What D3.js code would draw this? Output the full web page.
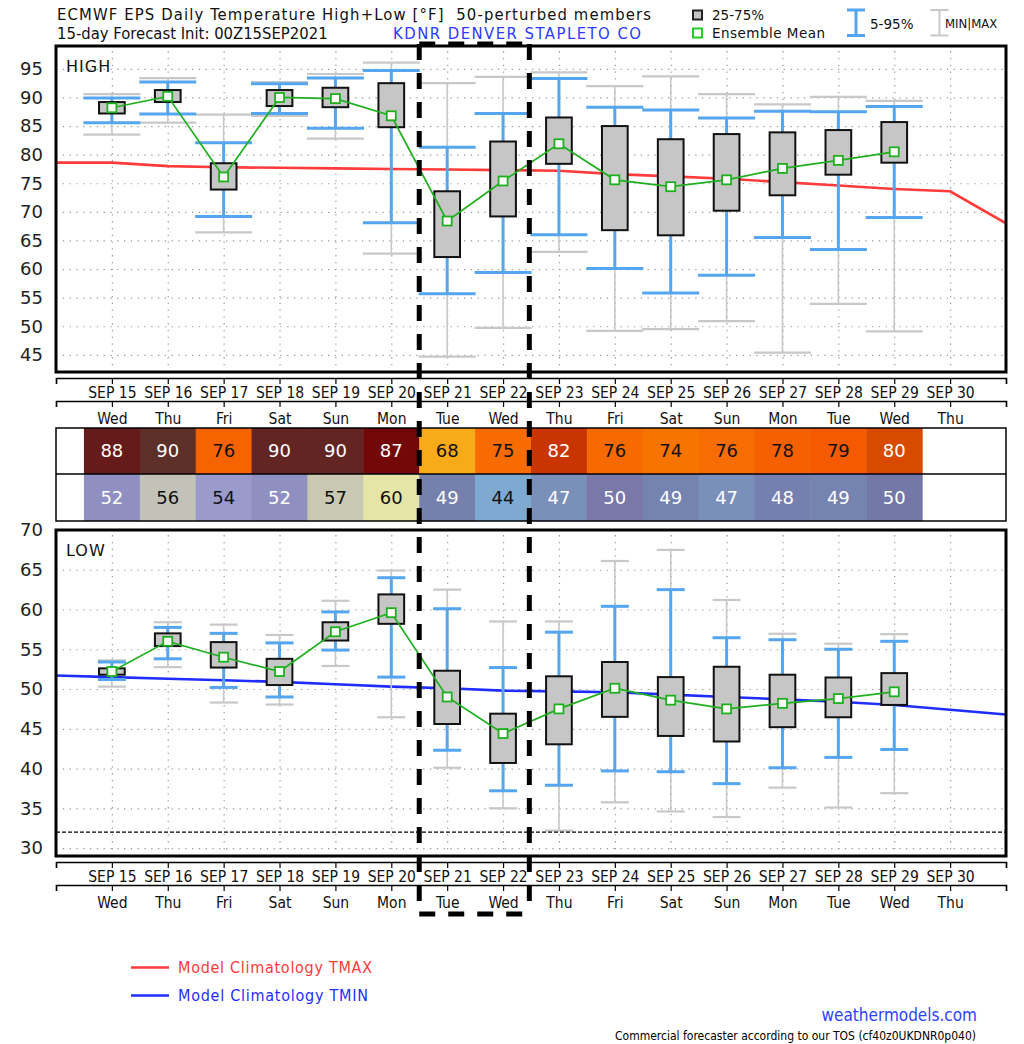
<!DOCTYPE html>
<html>
<head>
<meta charset="utf-8">
<script src="https://cdn.jsdelivr.net/npm/d3@7"></script>
<style>
body { margin: 0; background: #fff; }
svg text { font-family: "DejaVu Sans", sans-serif; }
svg .cond { font-family: "DejaVu Sans Condensed", "Liberation Sans Narrow", "Open Sans", sans-serif; font-stretch: condensed; }
</style>
</head>
<body>
<div id="chart"></div>
<script>

// ---- data ----
var dates = ["SEP 15","SEP 16","SEP 17","SEP 18","SEP 19","SEP 20","SEP 21","SEP 22","SEP 23","SEP 24","SEP 25","SEP 26","SEP 27","SEP 28","SEP 29","SEP 30"];
var weekdays = ["Wed","Thu","Fri","Sat","Sun","Mon","Tue","Wed","Thu","Fri","Sat","Sun","Mon","Tue","Wed","Thu"];
var dayIdx = [0,1,2,3,4,5,6,7,8,9,10,11,12,13,14];

var highMin  = [83.5, 85.6, 66.4, 86.8, 82.8, 62.7, 44.7, 49.7, 63.0, 49.2, 49.5, 50.9, 45.4, 53.9, 49.1];
var highP5   = [85.6, 87.1, 69.2, 87.2, 84.6, 68.1, 55.7, 59.4, 66.0, 60.1, 55.8, 58.9, 65.5, 63.4, 69.0];
var highQ1   = [87.2, 89.2, 73.9, 88.5, 88.3, 84.8, 62.1, 69.2, 78.4, 66.8, 65.9, 70.2, 72.9, 76.5, 78.6];
var highMean = [88.2, 90.2, 76.1, 90.0, 89.8, 86.8, 68.4, 75.4, 81.9, 75.6, 74.4, 75.6, 77.6, 79.0, 80.5];
var highQ3   = [89.2, 91.3, 78.5, 91.3, 91.7, 92.5, 73.6, 82.3, 86.5, 85.0, 82.7, 83.6, 83.9, 84.3, 85.7];
var highP95  = [89.9, 92.7, 82.1, 92.4, 93.4, 94.7, 81.3, 87.2, 93.3, 88.3, 87.8, 86.4, 87.6, 87.5, 88.4];
var highMax  = [90.6, 93.4, 87.0, 92.7, 94.1, 96.1, 92.5, 93.6, 94.4, 92.0, 93.7, 90.6, 88.8, 90.1, 89.4];

var lowMin  = [50.3, 52.75, 48.3, 48.05, 52.9, 46.45, 40.1, 35.0, 32.2, 35.75, 34.6, 33.9, 37.6, 35.1, 36.9];
var lowP5   = [51.2, 53.8, 50.2, 49.0, 54.9, 51.5, 42.3, 37.2, 37.9, 39.7, 39.6, 38.1, 40.1, 41.4, 42.4];
var lowQ1   = [51.8, 55.4, 52.7, 50.5, 56.1, 58.2, 45.6, 40.7, 43.05, 46.5, 44.1, 43.4, 45.2, 46.45, 48.0];
var lowMean = [52.2, 56.0, 54.0, 52.2, 57.2, 59.6, 49.0, 44.4, 47.5, 50.1, 48.6, 47.5, 48.2, 48.8, 49.65];
var lowQ3   = [52.6, 57.0, 55.9, 53.8, 58.4, 61.9, 52.3, 46.9, 51.6, 53.4, 51.5, 52.8, 51.8, 51.45, 52.0];
var lowP95  = [53.4, 57.75, 57.0, 55.8, 59.7, 64.0, 60.1, 52.7, 57.15, 60.4, 62.5, 56.45, 56.2, 55.0, 56.0];
var lowMax  = [53.6, 58.4, 58.1, 56.8, 61.1, 64.9, 62.5, 58.5, 58.5, 66.1, 67.5, 61.2, 56.95, 55.7, 56.9];

// model climatology, one point per day from Sep 14 to Oct 1
var climDay  = [-1, 0, 1, 2, 3, 4, 5, 6, 7, 8, 9, 10, 11, 12, 13, 14, 15, 16];
var tmaxClim = [78.6, 78.6, 78.0, 77.8, 77.7, 77.6, 77.5, 77.4, 77.3, 77.2, 76.6, 76.2, 75.8, 75.2, 74.6, 74.0, 73.6, 68.0];
var tminClim = [51.7, 51.5, 51.3, 51.1, 50.9, 50.6, 50.3, 50.1, 49.8, 49.7, 49.6, 49.3, 49.0, 48.7, 48.4, 48.0, 47.4, 46.8];

// daily table
var tableHigh = [88, 90, 76, 90, 90, 87, 68, 75, 82, 76, 74, 76, 78, 79, 80];
var tableLow  = [52, 56, 54, 52, 57, 60, 49, 44, 47, 50, 49, 47, 48, 49, 50];
var highColors = ["#661b1a","#5c3028","#f66300","#622522","#622522","#730808","#f9aa18","#f76b00","#c93500","#f76a00","#f87400","#f86d03","#f66000","#f55a00","#d84a00"];
var lowColors  = ["#8f8fc2","#c2c2b8","#9a9acc","#8f8fc2","#c9c9b2","#e5e5a8","#7580ad","#7eaad2","#7a8fba","#7a78a8","#7583b0","#7a8fba","#7580b0","#7583b0","#7478a8"];
var highDark = [1,1,0,1,1,1,0,0,1,0,0,0,0,0,1];
var lowDark  = [1,0,0,1,0,0,1,0,1,1,1,1,1,1,1];

var highTicks = [45, 50, 55, 60, 65, 70, 75, 80, 85, 90, 95];
var lowTicks  = [30, 35, 40, 45, 50, 55, 60, 65, 70];
var highlightDays = [5.5, 7.47];   // dashed box around Sep 21-22

// ---- layout ----
var W = 1024, H = 1044;
var left = 56, right = 1006;

var svg = d3.select("#chart").append("svg")
	.attr("width", W)
	.attr("height", H);

var x = d3.scaleLinear().domain([-1, 16]).range([left, right]);

var yHigh = d3.scaleLinear().domain([42, 99]).range([372, 46]);
var yLow  = d3.scaleLinear().domain([29, 70]).range([856, 530]);

var blue = "#55a6ee", grayW = "#c8c8c8", green = "#1fb01f";

function drawPanel(y, top, bottom, ticks, s, capHalf, clim, climColor, label, labelY) {

	var g = svg.append("g");

	// dotted grid
	var gy = g.append("g")
		.attr("transform", "translate(" + left + ",0)")
		.call(d3.axisLeft(y).tickValues(ticks).tickSize(-(right - left)).tickFormat(""));
	var gx = g.append("g")
		.attr("transform", "translate(0," + bottom + ")")
		.call(d3.axisBottom(x).tickValues(d3.range(0, 16)).tickSize(-(bottom - top)).tickFormat(""));
	[gy, gx].forEach(function(a) {
		a.select(".domain").remove();
		a.selectAll("line").attr("stroke", "#9a9a9a").attr("stroke-width", 1.2).attr("stroke-dasharray", "1.3,5.5");
	});

	// y labels
	var ya = g.append("g")
		.attr("transform", "translate(" + left + ",0)")
		.call(d3.axisLeft(y).tickValues(ticks).tickSize(0).tickPadding(13));
	ya.select(".domain").remove();
	ya.selectAll("text").attr("font-size", 18).attr("fill", "#222")
		.style("font-family", "'DejaVu Sans', sans-serif");

	// clip for lines
	var clipId = "clip" + label;
	svg.append("clipPath").attr("id", clipId)
		.append("rect").attr("x", left).attr("y", top).attr("width", right - left).attr("height", bottom - top);

	var climLine = d3.line()
		.x(function(d, i) { return x(climDay[i]); })
		.y(function(d) { return y(d); });
	g.append("path")
		.attr("d", climLine(clim))
		.attr("clip-path", "url(#" + clipId + ")")
		.attr("fill", "none")
		.attr("stroke", climColor)
		.attr("stroke-width", 2.6);

	// min|max whiskers
	var w1 = g.selectAll(".mm").data(dayIdx).enter().append("g");
	w1.append("line")
		.attr("x1", function(i) { return x(i); }).attr("x2", function(i) { return x(i); })
		.attr("y1", function(i) { return y(s.min[i]); }).attr("y2", function(i) { return y(s.max[i]); })
		.attr("stroke", grayW).attr("stroke-width", 1.6);
	["min", "max"].forEach(function(k) {
		w1.append("line")
			.attr("x1", function(i) { return x(i) - capHalf; }).attr("x2", function(i) { return x(i) + capHalf; })
			.attr("y1", function(i) { return y(s[k][i]); }).attr("y2", function(i) { return y(s[k][i]); })
			.attr("stroke", grayW).attr("stroke-width", 2.2);
	});

	// 5-95 whiskers
	var w2 = g.selectAll(".pp").data(dayIdx).enter().append("g");
	w2.append("line")
		.attr("x1", function(i) { return x(i); }).attr("x2", function(i) { return x(i); })
		.attr("y1", function(i) { return y(s.p5[i]); }).attr("y2", function(i) { return y(s.p95[i]); })
		.attr("stroke", blue).attr("stroke-width", 3);
	["p5", "p95"].forEach(function(k) {
		w2.append("line")
			.attr("x1", function(i) { return x(i) - capHalf; }).attr("x2", function(i) { return x(i) + capHalf; })
			.attr("y1", function(i) { return y(s[k][i]); }).attr("y2", function(i) { return y(s[k][i]); })
			.attr("stroke", blue).attr("stroke-width", 3);
	});

	// 25-75 boxes
	var bw = 0.46 * (x(1) - x(0));
	g.selectAll(".box").data(dayIdx).enter().append("rect")
		.attr("x", function(i) { return x(i) - bw / 2; })
		.attr("width", bw)
		.attr("y", function(i) { return y(s.q3[i]); })
		.attr("height", function(i) { return y(s.q1[i]) - y(s.q3[i]); })
		.attr("fill", "#c6c6c6")
		.attr("stroke", "#111")
		.attr("stroke-width", 2);

	// ensemble mean
	var meanLine = d3.line()
		.x(function(i) { return x(i); })
		.y(function(i) { return y(s.mean[i]); });
	g.append("path")
		.attr("d", meanLine(dayIdx))
		.attr("fill", "none").attr("stroke", green).attr("stroke-width", 1.7);
	g.selectAll(".mean").data(dayIdx).enter().append("rect")
		.attr("x", function(i) { return x(i) - 4.5; })
		.attr("y", function(i) { return y(s.mean[i]) - 4.5; })
		.attr("width", 9).attr("height", 9)
		.attr("fill", "#fff").attr("stroke", green).attr("stroke-width", 1.8);

	// frame
	g.append("rect")
		.attr("x", left).attr("y", top)
		.attr("width", right - left).attr("height", bottom - top)
		.attr("fill", "none").attr("stroke", "#000").attr("stroke-width", 3);

	g.append("text")
		.attr("x", 66).attr("y", labelY)
		.attr("font-size", 16).attr("letter-spacing", 1).attr("fill", "#111")
		.text(label);

	return g;
}

function drawDateAxes(frameBottom) {
	var days = d3.range(-1, 17);
	var a1 = svg.append("g")
		.attr("class", "cond")
		.attr("transform", "translate(0," + (frameBottom + 6) + ")")
		.call(d3.axisBottom(x).tickValues(days).tickSizeOuter(0).tickSize(6).tickPadding(3)
			.tickFormat(function(d) { return (d >= 0 && d < 16) ? dates[d] : ""; }));
	var a2 = svg.append("g")
		.attr("class", "cond")
		.attr("transform", "translate(0," + (frameBottom + 29) + ")")
		.call(d3.axisBottom(x).tickValues(days).tickSizeOuter(0).tickSize(6).tickPadding(6)
			.tickFormat(function(d) { return (d >= 0 && d < 16) ? weekdays[d] : ""; }));
	[a1, a2].forEach(function(a) {
		a.select(".domain").attr("stroke", "#000").attr("stroke-width", 1.5);
		a.selectAll("line").attr("stroke", "#000").attr("stroke-width", 1.2);
		a.selectAll("text").attr("font-size", 15.5).attr("fill", "#111")
			.style("font-family", "'DejaVu Sans Condensed','Liberation Sans Narrow','Open Sans',sans-serif");
	});
}

drawPanel(yHigh, 46, 372, highTicks,
	{min: highMin, p5: highP5, q1: highQ1, mean: highMean, q3: highQ3, p95: highP95, max: highMax},
	28.5, tmaxClim, "#ff3b3b", "HIGH", 72);

drawPanel(yLow, 530, 856, lowTicks,
	{min: lowMin, p5: lowP5, q1: lowQ1, mean: lowMean, q3: lowQ3, p95: lowP95, max: lowMax},
	14, tminClim, "#1f2eff", "LOW", 556);

// freezing line
svg.append("line")
	.attr("x1", left).attr("x2", right)
	.attr("y1", yLow(32)).attr("y2", yLow(32))
	.attr("stroke", "#000").attr("stroke-width", 1.3).attr("stroke-dasharray", "4,2");

drawDateAxes(372);
drawDateAxes(856);

// ---- table ----
var tTop = 428, tMid = 474, tBot = 521;
var tg = svg.append("g");
[[tableHigh, highColors, highDark, tTop, tMid], [tableLow, lowColors, lowDark, tMid, tBot]].forEach(function(row) {
	var cells = tg.selectAll(null).data(dayIdx).enter().append("g");
	cells.append("rect")
		.attr("x", function(i) { return x(i - 0.5); })
		.attr("width", function(i) { return x(i + 0.5) - x(i - 0.5) + 0.5; })
		.attr("y", row[3]).attr("height", row[4] - row[3])
		.attr("fill", function(i) { return row[1][i]; });
	cells.append("text")
		.attr("x", function(i) { return x(i); })
		.attr("y", (row[3] + row[4]) / 2)
		.attr("dy", "0.36em")
		.attr("text-anchor", "middle")
		.attr("font-size", 18)
		.attr("fill", function(i) { return row[2][i] ? "#fff" : "#111"; })
		.text(function(i) { return row[0][i]; });
});
tg.append("rect").attr("x", left).attr("y", tTop).attr("width", right - left).attr("height", tBot - tTop)
	.attr("fill", "none").attr("stroke", "#000").attr("stroke-width", 1.5);
tg.append("line").attr("x1", left).attr("x2", right).attr("y1", tMid).attr("y2", tMid)
	.attr("stroke", "#000").attr("stroke-width", 1.5);

// ---- dashed highlight box ----
var hx0 = x(highlightDays[0]), hx1 = x(highlightDays[1]);
var hy0 = 44, hy1 = 914;
[[hx0, hy0, hx0, hy1], [hx1, hy0, hx1, hy1], [hx0, hy0, hx1, hy0], [hx0, hy1, hx1, hy1]].forEach(function(l) {
	svg.append("line")
		.attr("x1", l[0]).attr("y1", l[1]).attr("x2", l[2]).attr("y2", l[3])
		.attr("stroke", "#000").attr("stroke-width", 5).attr("stroke-dasharray", "16,13");
});

// ---- header ----
var hdr = svg.append("g").attr("class", "cond");
hdr.append("text").attr("x", 57).attr("y", 20).attr("font-size", 16.5).attr("fill", "#111")
	.attr("textLength", 594).attr("lengthAdjust", "spacing")
	.style("white-space", "pre")
	.text("ECMWF EPS Daily Temperature High+Low [°F]  50-perturbed members");
hdr.append("text").attr("x", 57).attr("y", 39).attr("font-size", 16.5).attr("fill", "#111")
	.text("15-day Forecast Init: 00Z15SEP2021");
hdr.append("text").attr("x", 393).attr("y", 39).attr("font-size", 16.5).attr("fill", "#2a3cff")
	.attr("textLength", 248).attr("lengthAdjust", "spacing")
	.text("KDNR DENVER STAPLETO CO");

// legend top right
var lg = svg.append("g");
lg.append("rect").attr("x", 693).attr("y", 10.5).attr("width", 9).attr("height", 9)
	.attr("fill", "#c6c6c6").attr("stroke", "#222").attr("stroke-width", 2);
lg.append("text").attr("x", 712).attr("y", 20).attr("font-size", 13.5).attr("fill", "#111").text("25-75%");
lg.append("rect").attr("x", 693).attr("y", 28.5).attr("width", 9).attr("height", 9)
	.attr("fill", "#fff").attr("stroke", "#22cc22").attr("stroke-width", 2);
lg.append("text").attr("x", 712).attr("y", 38).attr("font-size", 13.5).attr("fill", "#111")
	.attr("textLength", 113).attr("lengthAdjust", "spacing").text("Ensemble Mean");
[[856, blue, 3], [939.5, grayW, 2]].forEach(function(b) {
	lg.append("line").attr("x1", b[0]).attr("x2", b[0]).attr("y1", 10).attr("y2", 35.5).attr("stroke", b[1]).attr("stroke-width", b[2]);
	lg.append("line").attr("x1", b[0] - 9).attr("x2", b[0] + 9).attr("y1", 10).attr("y2", 10).attr("stroke", b[1]).attr("stroke-width", b[2]);
	lg.append("line").attr("x1", b[0] - 9).attr("x2", b[0] + 9).attr("y1", 35.5).attr("y2", 35.5).attr("stroke", b[1]).attr("stroke-width", b[2]);
});
lg.append("text").attr("x", 870).attr("y", 28.5).attr("font-size", 13.5).attr("fill", "#111").text("5-95%");
lg.append("text").attr("x", 945).attr("y", 27.5).attr("class", "cond").attr("font-size", 13).attr("fill", "#111").text("MIN|MAX");

// bottom legend
var bl = svg.append("g").attr("class", "cond");
[["Model Climatology TMAX", "#ff3b3b", 967.5, 194], ["Model Climatology TMIN", "#1f2eff", 995.5, 190]].forEach(function(r) {
	bl.append("line").attr("x1", 131).attr("x2", 169).attr("y1", r[2]).attr("y2", r[2])
		.attr("stroke", r[1]).attr("stroke-width", 2.6);
	bl.append("text").attr("x", 178).attr("y", r[2]).attr("dy", "0.35em")
		.attr("font-size", 16).attr("fill", r[1])
		.attr("textLength", r[3]).attr("lengthAdjust", "spacing")
		.text(r[0]);
});
bl.append("text").attr("x", 977).attr("y", 1021).attr("text-anchor", "end")
	.attr("font-size", 17).attr("fill", "#2a44ff").text("weathermodels.com");
bl.append("text").attr("x", 976).attr("y", 1040).attr("text-anchor", "end")
	.attr("font-size", 12).attr("fill", "#000")
	.style("font-family", "'Liberation Sans Narrow','DejaVu Sans Condensed',sans-serif")
	.text("Commercial forecaster according to our TOS (cf40z0UKDNR0p040)");

</script>
</body>
</html>
